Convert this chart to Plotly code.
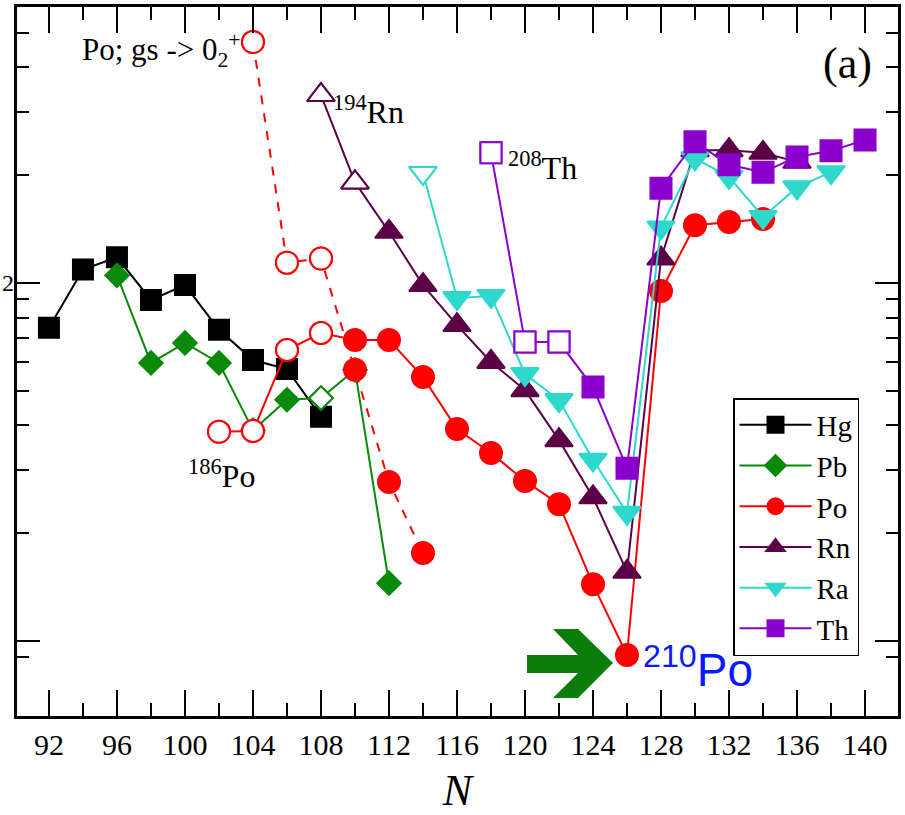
import plotly.graph_objects as go

# ---------------- data ----------------
N_hg = [92, 94, 96, 98, 100, 102, 104, 106, 108]
hg = [7.5, 10.9, 11.8, 8.97, 9.87, 7.4, 6.09, 5.75, 4.23]
hg_open = [False] * 9

N_pb = [96, 98, 100, 102, 104, 106, 108, 110, 112]
pb = [10.5, 5.98, 6.80, 5.98, 3.88, 4.72, 4.77, 5.72, 1.45]
pb_open = [False, False, False, False, False, False, True, False, False]

N_po = [102, 104, 106, 108, 110, 112, 114, 116, 118, 120, 122, 124, 126, 128, 130, 132, 134]
po = [3.84, 3.86, 6.50, 7.25, 6.93, 6.93, 5.46, 3.91, 3.35, 2.80, 2.41, 1.44, 0.914, 9.50, 14.5, 14.8, 15.1]
po_open = [True, True, True, True] + [False] * 13

N_po02 = [104, 106, 108, 110, 112, 114]
po02 = [47.1, 11.4, 11.7, 5.72, 2.78, 1.76]
po02_open = [True, True, True, False, False, False]

N_rn = [108, 110, 112, 114, 116, 118, 120, 122, 124, 126, 128, 130, 132, 134, 136]
rn = [33.5, 19.1, 13.9, 9.87, 7.63, 6.02, 5.02, 3.64, 2.52, 1.56, 11.7, 23.5, 23.5, 23.1, 21.8]
rn_open = [True, True] + [False] * 13

N_ra = [114, 116, 118, 120, 122, 124, 126, 128, 130, 132, 134, 136, 138]
ra = [20.3, 9.08, 9.20, 5.57, 4.71, 3.21, 2.28, 14.3, 22.3, 19.8, 15.3, 18.5, 20.4]
ra_open = [True] + [False] * 12

N_th = [118, 120, 122, 124, 126, 128, 130, 132, 134, 136, 138, 140]
th = [23.1, 6.84, 6.84, 5.12, 3.04, 18.4, 24.8, 21.4, 20.4, 22.5, 23.4, 25.1]
th_open = [True, True, True] + [False] * 9

x_ticks = list(range(92, 141, 4))
x_minor = list(range(94, 139, 4))
y_major = [1, 10]
y_minor = [0.9, 2, 3, 4, 5, 6, 7, 8, 9, 20, 30, 40, 50]

# ---------------- styling ----------------
SERIF = "Liberation Serif"
W, H = 905, 815
L, R, T, B = 17, 898, 7, 716  # plot area in pixels


def px(x):
    return (x - L) / (R - L)


def py(y):
    return (B - y) / (B - T)


def add_series(fig, xs, ys, opens, color, symbol, size, name, dash="solid", show=True):
    # full series: line + filled markers (this is what the legend shows)
    fig.add_trace(go.Scatter(
        x=xs, y=ys, mode="lines+markers", name=name, showlegend=show, legendgroup=name,
        line=dict(color=color, width=2, dash=dash),
        marker=dict(symbol=symbol, size=size, color=color,
                    line=dict(color=color, width=2)),
    ))
    # open (hollow) points drawn on top
    ox = [x for x, o in zip(xs, opens) if o]
    oy = [y for y, o in zip(ys, opens) if o]
    if ox:
        fig.add_trace(go.Scatter(
            x=ox, y=oy, mode="markers", showlegend=False, legendgroup=name,
            hoverinfo="skip",
            marker=dict(symbol=symbol, size=size, color="white",
                        line=dict(color=color, width=2)),
        ))


GREEN = "#0a8a0a"
RED = "#ff0000"
RN = "#5c0048"
RA = "#2fd8cc"
TH = "#8a00cc"

fig = go.Figure()
add_series(fig, N_hg, hg, hg_open, "black", "square", 20, "Hg")
add_series(fig, N_pb, pb, pb_open, GREEN, "diamond", 18, "Pb")
add_series(fig, N_po02, po02, po02_open, RED, "circle", 22, "Po gs->0+2", dash="dash", show=False)
add_series(fig, N_po, po, po_open, RED, "circle", 22, "Po")
add_series(fig, N_rn, rn, rn_open, RN, "triangle-up", 24, "Rn")
add_series(fig, N_ra, ra, ra_open, RA, "triangle-down", 24, "Ra")
add_series(fig, N_th, th, th_open, TH, "square", 21, "Th")

# green arrow pointing to 210Po
arrow_pts = [(527, 655), (578, 655), (553, 629), (578, 629), (613, 663),
             (578, 698), (553, 698), (578, 673), (527, 673)]
path = "M " + " L ".join(f"{px(a):.4f},{py(b):.4f}" for a, b in arrow_pts) + " Z"
fig.add_shape(type="path", path=path, xref="paper", yref="paper",
              fillcolor="#0b7d0b", line=dict(width=0), layer="above")

ann = [
    dict(text="Po; gs -> 0<sub>2</sub><sup>+</sup>", x=px(80), y=py(50), size=31),
    dict(text="(a)", x=px(821), y=py(64), size=44),
    dict(text="<sup>194</sup>Rn", x=px(331), y=py(110), size=32),
    dict(text="<sup>208</sup>Th", x=px(506), y=py(166), size=32),
    dict(text="<sup>186</sup>Po", x=px(186), y=py(474), size=32),
]
for a in ann:
    fig.add_annotation(text=a["text"], x=a["x"], y=a["y"], xref="paper", yref="paper",
                       xanchor="left", yanchor="middle", showarrow=False,
                       font=dict(family=SERIF, size=a["size"], color="black"))

fig.add_annotation(text="<sup>210</sup>Po", x=px(641), y=py(667), xref="paper", yref="paper",
                   xanchor="left", yanchor="middle", showarrow=False,
                   font=dict(family="Liberation Sans", size=46, color="#0a1aff"))
fig.add_annotation(text="2", x=px(0), y=py(283), xref="paper", yref="paper",
                   xanchor="left", yanchor="middle", showarrow=False,
                   font=dict(family=SERIF, size=24, color="black"))

fig.update_xaxes(
    range=[90.12, 141.94], tickmode="array", tickvals=x_ticks,
    ticks="inside", ticklen=26, tickwidth=2, tickcolor="black",
    minor=dict(tickmode="array", tickvals=x_minor, ticks="inside", ticklen=13,
               tickwidth=2, tickcolor="black", showgrid=False),
    showline=True, linewidth=2.5, linecolor="black", mirror="ticks",
    showgrid=False, zeroline=False, automargin=False,
    tickfont=dict(family=SERIF, size=30, color="black"),
    title=dict(text="<i>N</i>", font=dict(family=SERIF, size=44, color="black"), standoff=22),
)
fig.update_yaxes(
    type="log", range=[-0.2095, 1.771], tickmode="array", tickvals=y_major,
    ticks="inside", ticklen=23, tickwidth=2, tickcolor="black",
    minor=dict(tickmode="array", tickvals=y_minor, ticks="inside", ticklen=12,
               tickwidth=2, tickcolor="black", showgrid=False),
    showline=True, linewidth=2.5, linecolor="black", mirror="ticks",
    showgrid=False, zeroline=False, showticklabels=False, automargin=False,
)

fig.update_layout(
    width=W, height=H,
    margin=dict(l=L, r=W - R, t=T, b=H - B),
    paper_bgcolor="white", plot_bgcolor="white",
    font=dict(family=SERIF, color="black"),
    legend=dict(x=px(733), y=py(398), xanchor="left", yanchor="top",
                bgcolor="white", bordercolor="black", borderwidth=1.5,
                font=dict(family=SERIF, size=29, color="black"),
                itemwidth=72, tracegroupgap=0),
)

fig.write_html("out.html")
